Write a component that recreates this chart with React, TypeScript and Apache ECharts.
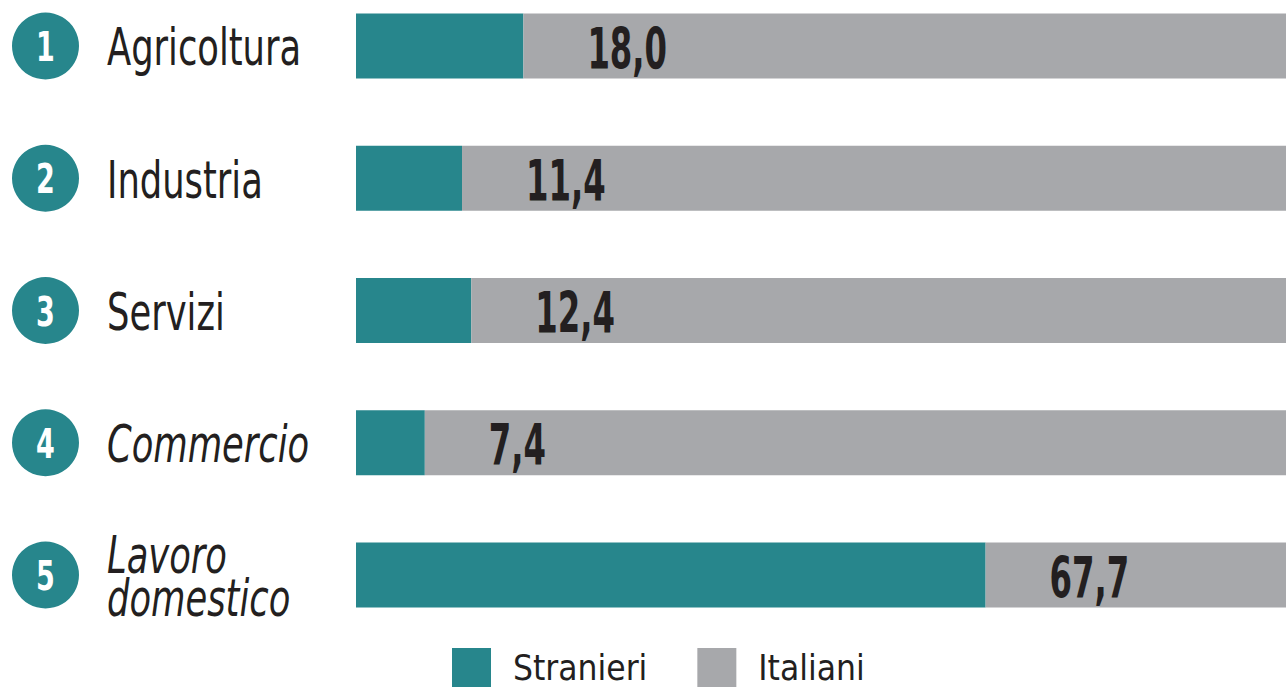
import React, { useEffect, useRef } from "react";
import * as echarts from "echarts";

const categories = ["Agricoltura", "Industria", "Servizi", "Commercio", "Lavoro\ndomestico"];
const italicFlags = [false, false, false, true, true];
const stranieri = [18.0, 11.4, 12.4, 7.4, 67.7];
const italiani = stranieri.map((v) => +(100 - v).toFixed(1));
const seriesNames = ["Stranieri", "Italiani"];

const TEAL = "#27868c";
const GRAY = "#a7a8ab";
const DARK = "#231f20";
const FONT = "'DejaVu Sans Condensed', 'DejaVu Sans', sans-serif";

export default function App() {
  const ref = useRef<HTMLDivElement>(null);
  useEffect(() => {
    document.body.style.margin = "0";
    const chart = echarts.init(ref.current!, null, { renderer: "svg" });
    chart.setOption({
      animation: false,
      textStyle: { fontFamily: FONT },
      legend: {
        data: seriesNames,
        top: 648,
        left: 452,
        padding: 0,
        itemWidth: 39,
        itemHeight: 39,
        itemGap: 50,
        icon: "rect",
        textStyle: { fontSize: 35, color: DARK, fontFamily: FONT, padding: [0, 0, 0, 17] },
      },
      grid: [
        { left: 356, right: 0, top: 46, height: 529 },
        { left: 12, width: 67, top: 46, height: 529 },
      ],
      xAxis: [
        { type: "value", min: 0, max: 100, gridIndex: 0, show: false },
        { type: "value", min: 0, max: 1, gridIndex: 1, show: false },
      ],
      yAxis: [
        {
          type: "category",
          gridIndex: 0,
          inverse: true,
          boundaryGap: false,
          data: categories,
          axisLine: { show: false },
          axisTick: { show: false },
          axisLabel: { show: false },
        },
        {
          type: "category",
          gridIndex: 1,
          inverse: true,
          boundaryGap: false,
          data: categories,
          show: false,
        },
      ],
      series: [
        {
          name: seriesNames[0],
          type: "bar",
          stack: "t",
          barWidth: 65,
          itemStyle: { color: TEAL },
          data: stranieri,
        },
        {
          name: seriesNames[1],
          type: "bar",
          stack: "t",
          barWidth: 65,
          itemStyle: { color: GRAY },
          data: italiani,
        },
        {
          // value labels
          type: "custom",
          clip: false,
          z: 10,
          data: stranieri.map((v, i) => [v, i]),
          renderItem: (params: any, api: any) => {
            const pt = api.coord([api.value(0), api.value(1)]);
            const v = api.value(0) as number;
            return {
              type: "text",
              x: pt[0] + 64,
              y: pt[1] + 3,
              scaleX: 0.63,
              style: {
                text: v.toFixed(1).replace(".", ","),
                fill: DARK,
                font: `bold 57px ${FONT}`,
                align: "left",
                verticalAlign: "middle",
              },
            };
          },
        },
        {
          // category labels
          type: "custom",
          clip: false,
          z: 10,
          data: categories.map((_, i) => [0, i]),
          renderItem: (params: any, api: any) => {
            const idx = params.dataIndex;
            const pt = api.coord([0, api.value(1)]);
            return {
              type: "text",
              x: pt[0] - 249,
              y: pt[1] + 2,
              scaleX: 0.77,
              style: {
                text: categories[idx],
                fill: DARK,
                font: `${italicFlags[idx] ? "italic " : ""}51px ${FONT}`,
                lineHeight: 43,
                align: "left",
                verticalAlign: "middle",
              },
            };
          },
        },
        {
          // numbered circles
          type: "custom",
          clip: false,
          xAxisIndex: 1,
          yAxisIndex: 1,
          data: categories.map((_, i) => [0.5, i]),
          renderItem: (params: any, api: any) => {
            const pt = api.coord([api.value(0), api.value(1)]);
            return {
              type: "group",
              children: [
                {
                  type: "circle",
                  shape: { cx: pt[0], cy: pt[1], r: 33.5 },
                  style: { fill: TEAL },
                },
                {
                  type: "text",
                  x: pt[0],
                  y: pt[1] + 1,
                  scaleX: 0.75,
                  style: {
                    text: String(params.dataIndex + 1),
                    fill: "#ffffff",
                    font: `bold 40px ${FONT}`,
                    align: "center",
                    verticalAlign: "middle",
                  },
                },
              ],
            };
          },
        },
      ],
    });
    return () => chart.dispose();
  }, []);
  return <div ref={ref} style={{ width: 1286, height: 690 }} />;
}
